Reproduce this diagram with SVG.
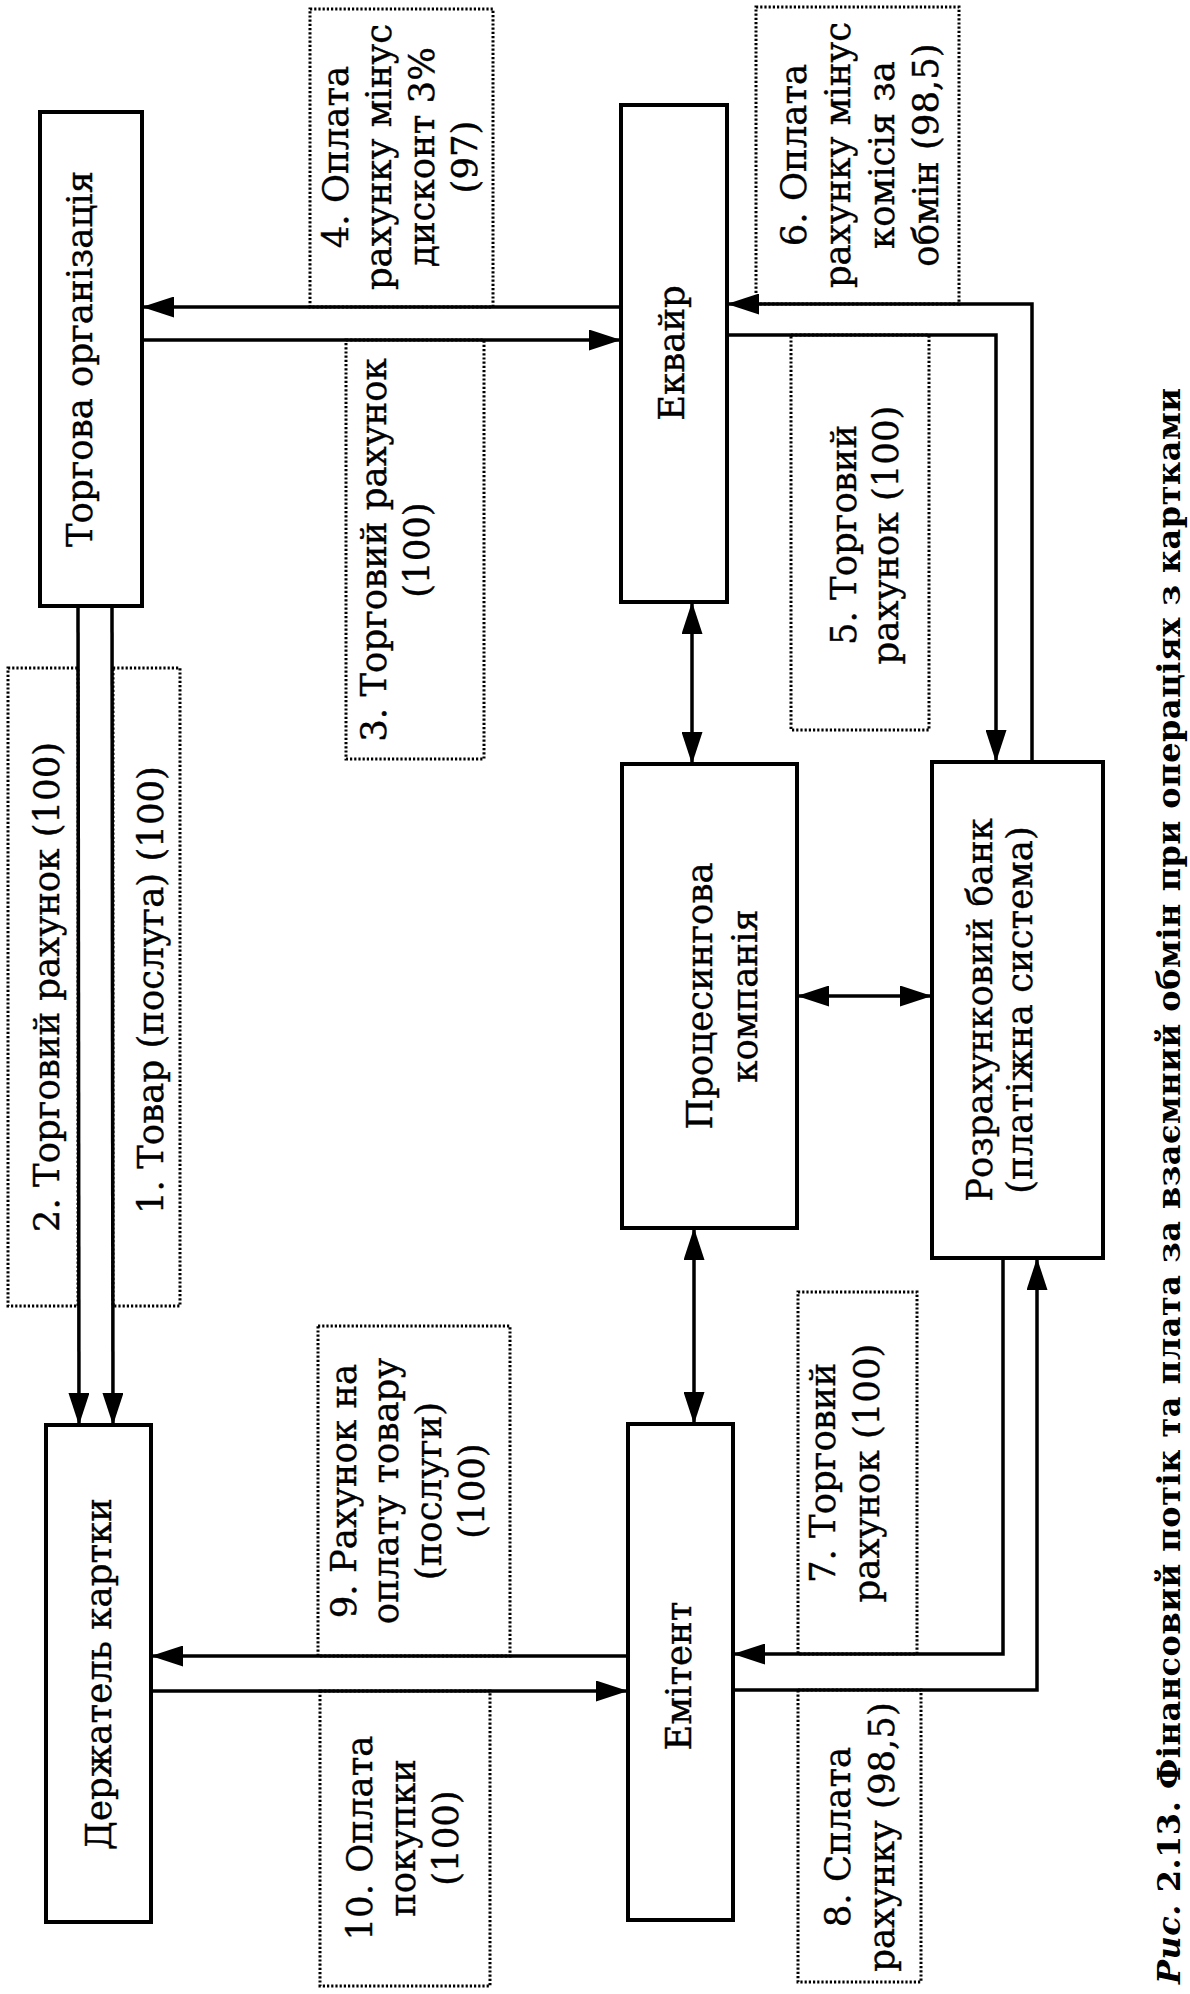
<svg xmlns="http://www.w3.org/2000/svg" width="1190" height="1994" viewBox="0 0 1190 1994">
<style>
  .box{fill:#fff;stroke:#000;stroke-width:4}
  .dot{fill:none;stroke:#000;stroke-width:3;stroke-dasharray:2.2 2}
  .ln{fill:none;stroke:#000;stroke-width:3.5}
  .t{font-family:"DejaVu Serif","Liberation Serif",serif;font-size:35.5px;fill:#000;stroke:#000;stroke-width:0.4;text-anchor:middle}
  .cap{font-family:"DejaVu Serif","Liberation Serif",serif;font-size:32px;font-weight:bold;fill:#000;text-anchor:middle}
</style>
<defs>
  <marker id="ah" viewBox="0 0 32 21" markerWidth="32" markerHeight="21" refX="32" refY="10.5" orient="auto-start-reverse" markerUnits="userSpaceOnUse">
    <path d="M0,0 L32,10.5 L0,21 z" fill="#000"/>
  </marker>
</defs>
<rect width="1190" height="1994" fill="#fff"/>

<g id="edge-labels">
  <g id="lbl4">
    <rect class="dot" x="310" y="9" width="183" height="298"/>
    <text class="t" transform="translate(348,157) rotate(-90)">4. Оплата</text>
    <text class="t" transform="translate(391,157) rotate(-90)">рахунку мінус</text>
    <text class="t" transform="translate(434,157) rotate(-90)">дисконт 3%</text>
    <text class="t" transform="translate(477,157) rotate(-90)">(97)</text>
  </g>
  <g id="lbl3">
    <rect class="dot" x="346" y="340" width="138" height="419"/>
    <text class="t" transform="translate(386,550) rotate(-90)">3. Торговий рахунок</text>
    <text class="t" transform="translate(429,550) rotate(-90)">(100)</text>
  </g>
  <g id="lbl6">
    <rect class="dot" x="756" y="7" width="203" height="297"/>
    <text class="t" transform="translate(806,155) rotate(-90)">6. Оплата</text>
    <text class="t" transform="translate(850,155) rotate(-90)">рахунку мінус</text>
    <text class="t" transform="translate(894,155) rotate(-90)">комісія за</text>
    <text class="t" transform="translate(938,155) rotate(-90)">обмін (98,5)</text>
  </g>
  <g id="lbl5">
    <rect class="dot" x="791" y="335" width="138" height="395"/>
    <text class="t" transform="translate(856,535) rotate(-90)">5. Торговий</text>
    <text class="t" transform="translate(898,535) rotate(-90)">рахунок (100)</text>
  </g>
  <g id="lbl2">
    <rect class="dot" x="8" y="668" width="70" height="638"/>
    <text class="t" transform="translate(59,987) rotate(-90)">2. Торговий рахунок (100)</text>
  </g>
  <g id="lbl1">
    <rect class="dot" x="113" y="668" width="67" height="638"/>
    <text class="t" transform="translate(163,990) rotate(-90)">1. Товар (послуга) (100)</text>
  </g>
  <g id="lbl9">
    <rect class="dot" x="318" y="1326" width="192" height="330"/>
    <text class="t" transform="translate(356,1491) rotate(-90)">9. Рахунок на</text>
    <text class="t" transform="translate(398,1491) rotate(-90)">оплату товару</text>
    <text class="t" transform="translate(441,1491) rotate(-90)">(послуги)</text>
    <text class="t" transform="translate(484,1491) rotate(-90)">(100)</text>
  </g>
  <g id="lbl10">
    <rect class="dot" x="320" y="1691" width="170" height="295"/>
    <text class="t" transform="translate(372,1838) rotate(-90)">10. Оплата</text>
    <text class="t" transform="translate(415,1838) rotate(-90)">покупки</text>
    <text class="t" transform="translate(458,1838) rotate(-90)">(100)</text>
  </g>
  <g id="lbl7">
    <rect class="dot" x="798" y="1292" width="119" height="362"/>
    <text class="t" transform="translate(835,1473) rotate(-90)">7. Торговий</text>
    <text class="t" transform="translate(879,1473) rotate(-90)">рахунок (100)</text>
  </g>
  <g id="lbl8">
    <rect class="dot" x="798" y="1690" width="123" height="292"/>
    <text class="t" transform="translate(850,1837) rotate(-90)">8. Сплата</text>
    <text class="t" transform="translate(894,1837) rotate(-90)">рахунку (98,5)</text>
  </g>
</g>

<g id="connectors">
  <line class="ln" x1="621" y1="307" x2="142" y2="307" marker-end="url(#ah)"/>
  <line class="ln" x1="142" y1="340" x2="621" y2="340" marker-end="url(#ah)"/>
  <polyline class="ln" points="1032,762 1032,304 727,304" marker-end="url(#ah)"/>
  <polyline class="ln" points="727,335 996,335 996,762" marker-end="url(#ah)"/>
  <polyline class="ln" points="1003,1258 1003,1654 733,1654" marker-end="url(#ah)"/>
  <polyline class="ln" points="733,1690 1037,1690 1037,1258" marker-end="url(#ah)"/>
  <line class="ln" x1="628" y1="1656" x2="151" y2="1656" marker-end="url(#ah)"/>
  <line class="ln" x1="151" y1="1691" x2="628" y2="1691" marker-end="url(#ah)"/>
  <line class="ln" x1="78" y1="606" x2="79" y2="1425" marker-end="url(#ah)"/>
  <line class="ln" x1="112" y1="606" x2="113" y2="1425" marker-end="url(#ah)"/>
  <line class="ln" x1="692" y1="602" x2="692" y2="764" marker-start="url(#ah)" marker-end="url(#ah)"/>
  <line class="ln" x1="694" y1="1228" x2="694" y2="1424" marker-start="url(#ah)" marker-end="url(#ah)"/>
  <line class="ln" x1="797" y1="996" x2="932" y2="996" marker-start="url(#ah)" marker-end="url(#ah)"/>
</g>

<g id="node-torgova">
  <rect class="box" x="40" y="112" width="102" height="494"/>
  <text class="t" transform="translate(92,359) rotate(-90)">Торгова організація</text>
</g>
<g id="node-ekvayr">
  <rect class="box" x="621" y="105" width="106" height="497"/>
  <text class="t" transform="translate(684,353) rotate(-90)">Еквайр</text>
</g>
<g id="node-processing">
  <rect class="box" x="622" y="764" width="175" height="464"/>
  <text class="t" transform="translate(712,996) rotate(-90)">Процесингова</text>
  <text class="t" transform="translate(757,996) rotate(-90)">компанія</text>
</g>
<g id="node-bank">
  <rect class="box" x="932" y="762" width="171" height="496"/>
  <text class="t" transform="translate(992,1010) rotate(-90)">Розрахунковий банк</text>
  <text class="t" transform="translate(1032,1010) rotate(-90)">(платіжна система)</text>
</g>
<g id="node-holder">
  <rect class="box" x="46" y="1425" width="105" height="497"/>
  <text class="t" transform="translate(111,1674) rotate(-90)">Держатель картки</text>
</g>
<g id="node-emitent">
  <rect class="box" x="628" y="1424" width="105" height="496"/>
  <text class="t" transform="translate(691,1676) rotate(-90)">Емітент</text>
</g>

<g id="caption">
  <text class="cap" transform="translate(1180,1186) rotate(-90)" textLength="1596" lengthAdjust="spacing"><tspan font-style="italic">Рис.</tspan> 2.13. Фінансовий потік та плата за взаємний обмін при операціях з картками</text>
</g>
</svg>
